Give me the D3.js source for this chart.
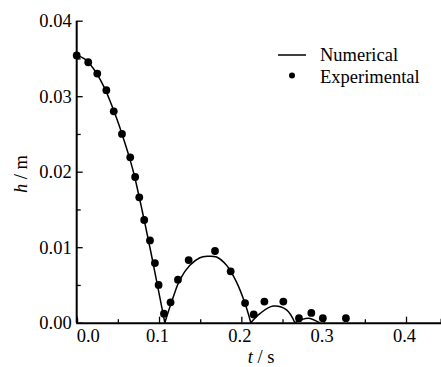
<!DOCTYPE html>
<html><head><meta charset="utf-8">
<script src="https://cdn.jsdelivr.net/npm/d3@7"></script>
<style>body{margin:0;background:#fff}svg{display:block}text{font-family:"Liberation Serif","Times New Roman",serif;fill:#000}</style>
</head><body><svg id="c" width="441" height="367"></svg>
<script>
// Experimental points
const expT = [0.000,0.014,0.025,0.036,0.045,0.055,0.065,0.071,0.076,0.082,0.089,0.095,0.0995,0.106,0.114,0.123,0.136,0.168,0.187,0.2045,0.215,0.228,0.251,0.270,0.285,0.299,0.327];
const expH = [0.0354,0.0345,0.0330,0.0308,0.0280,0.0250,0.0219,0.0193,0.0166,0.0136,0.0109,0.0079,0.0050,0.0012,0.0027,0.0057,0.0083,0.0095,0.0068,0.0026,0.0011,0.0028,0.0028,0.0006,0.0013,0.0006,0.0006];
// Numerical curve, split into segments (cusps at the bounces)
const numSeg = [0,0,0,0,0,0,0,0,0,0,0,0,0,0,0,0,0,0, 1,1,1,1,1,1,1,1,1,1,1, 2,2,2,2,2, 3,3,3];
const numT = [0,0.005,0.01,0.015,0.02,0.025,0.03,0.035,0.04,0.045,0.05,0.055,0.06,0.065,0.07,0.08,0.09,0.107,
              0.107,0.1173,0.1254,0.1375,0.1496,0.1585,0.170,0.182,0.194,0.2043,0.2115,
              0.2115,0.2225,0.2386,0.2549,0.265,
              0.265,0.281,0.295];
const numH = [0.0354,0.0352,0.0349,0.0344,0.0337,0.0329,0.0319,0.0308,0.0295,0.0281,0.0266,0.0250,0.0233,0.0215,0.0195,0.0146,0.0094,0.0000,
              0.0000,0.0034,0.0057,0.0076,0.0086,0.0088,0.0087,0.0076,0.0054,0.0026,0.0000,
              0.0000,0.0012,0.0022,0.0017,0.0000,
              0.0000,0.0006,0.0000];
const xTicks = [0.0,0.1,0.2,0.3,0.4];
const xTickLabels = ["0.0","0.1","0.2","0.3","0.4"];
const yTicks = [0.00,0.01,0.02,0.03,0.04];
const yTickLabels = ["0.00","0.01","0.02","0.03","0.04"];
const legendLabels = ["Numerical","Experimental"];

const svg = d3.select("#c");
const x = d3.scaleLinear().domain([0,0.4425]).range([76.7,441]);
const y = d3.scaleLinear().domain([0,0.04]).range([322.7,20.7]);

// axes
const fs = "18.5px";
const ax = svg.append("g").attr("transform",`translate(0,${y(0)})`)
  .call(d3.axisBottom(x).tickValues(d3.range(0,0.45,0.05)).tickSize(-4).tickFormat(""));
ax.selectAll(".tick line").attr("y2", d => Math.abs(d*10-Math.round(d*10))<1e-6 ? -6 : -3.5);
ax.select(".domain").attr("stroke-width",2);
ax.selectAll(".tick line").attr("stroke-width",1.3);
ax.append("g").selectAll("text").data(xTicks).join("text")
  .attr("x",(d,i)=> i===0 ? x(d) : x(d)-1.5).attr("y",19).attr("text-anchor",(d,i)=> i===0?"start":"middle")
  .style("font-size",fs).text((d,i)=>xTickLabels[i]);

const ay = svg.append("g").attr("transform",`translate(${x(0)},0)`)
  .call(d3.axisLeft(y).tickValues(d3.range(0,0.0401,0.005)).tickSize(-4).tickFormat(""));
ay.selectAll(".tick line").attr("x2", d => Math.abs(d*100-Math.round(d*100))<1e-6 ? 6 : 4).attr("stroke-width",1.3);
ay.select(".domain").attr("stroke-width",2).attr("d",`M0,${y(0)}V${y(0.04)}`);
ay.append("g").selectAll("text").data(yTicks).join("text")
  .attr("x",-5).attr("y",d=>y(d)+6.5).attr("text-anchor","end")
  .style("font-size",fs).text((d,i)=>yTickLabels[i]);

// axis titles
const xt = svg.append("text").attr("x",261).attr("y",363).attr("text-anchor","middle").style("font-size",fs);
xt.append("tspan").attr("font-style","italic").text("t");
xt.append("tspan").text(" / s");
const yt = svg.append("text").attr("transform","translate(27,174) rotate(-90)").attr("text-anchor","middle").style("font-size",fs);
yt.append("tspan").attr("font-style","italic").text("h");
yt.append("tspan").text(" / m");

// numerical curve
const segs = d3.groups(numT.map((t,i)=>({t,h:numH[i],s:numSeg[i]})), d=>d.s);
const line = d3.line().x(d=>x(d.t)).y(d=>y(d.h)).curve(d3.curveCatmullRom.alpha(0.5));
svg.append("g").selectAll("path").data(segs).join("path")
  .attr("d",d=>line(d[1])).attr("fill","none").attr("stroke","#000").attr("stroke-width",1.5);

// experimental points
svg.append("g").selectAll("circle").data(expT).join("circle")
  .attr("cx",d=>x(d)).attr("cy",(d,i)=>y(expH[i])).attr("r",3.9).attr("fill","#000");

// legend
svg.append("line").attr("x1",278).attr("x2",306).attr("y1",55).attr("y2",55).attr("stroke","#000").attr("stroke-width",1.5);
svg.append("circle").attr("cx",292).attr("cy",75.5).attr("r",3).attr("fill","#000");
svg.selectAll(".lg").data(legendLabels).join("text").attr("class","lg")
  .attr("x",320).attr("y",(d,i)=>61+i*22).style("font-size",fs).text(d=>d);
</script></body></html>
